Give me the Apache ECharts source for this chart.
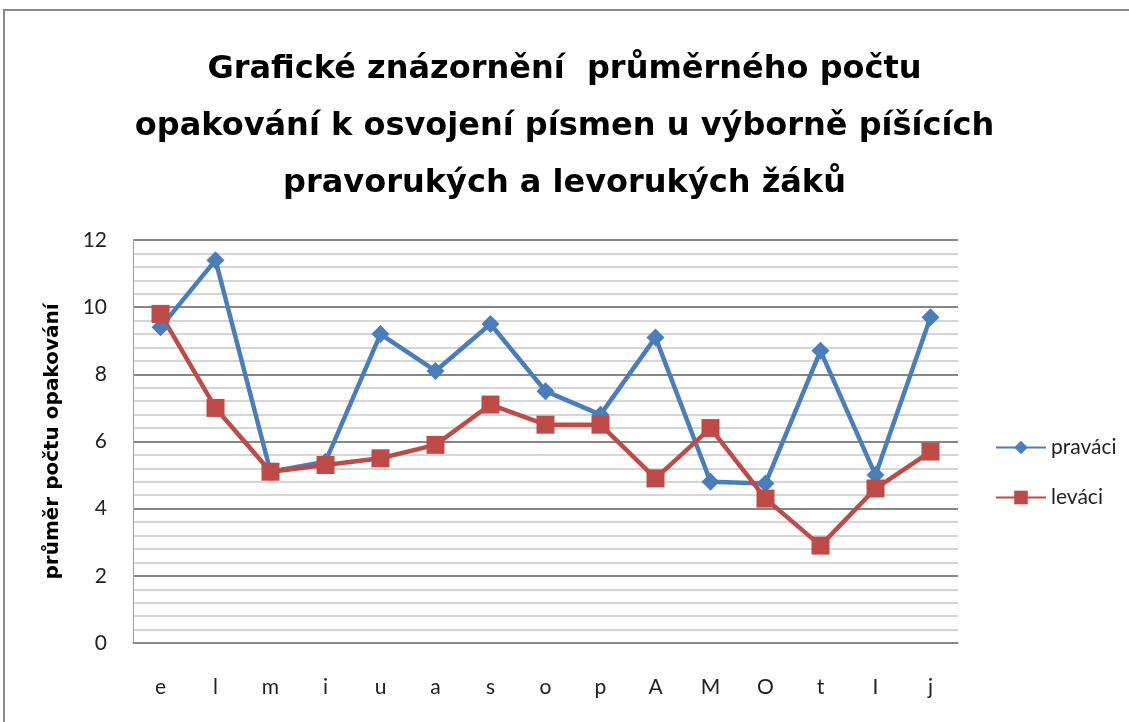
<!DOCTYPE html>
<html><head><meta charset="utf-8">
<script src="https://cdn.jsdelivr.net/npm/echarts@6/dist/echarts.min.js"></script>
<style>html,body{margin:0;padding:0;background:#fff}#c{width:1129px;height:722px}</style>
</head><body><div id="c"></div>
<script>
var categories = ['e','l','m','i','u','a','s','o','p','A','M','O','t','I','j'];
var pravaci = [9.4,11.4,5.1,5.4,9.2,8.1,9.5,7.5,6.8,9.1,4.8,4.75,8.7,5.0,9.7];
var levaci  = [9.8,7.0,5.1,5.3,5.5,5.9,7.1,6.5,6.5,4.9,6.4,4.3,2.9,4.6,5.7];
var yTicks = [0,2,4,6,8,10,12];
var titleText = 'Grafické znázornění  průměrného počtu\nopakování k osvojení písmen u výborně píšících\npravorukých a levorukých žáků';
var yName = 'průměr počtu opakování';
var F = 'Lato, "Open Sans", sans-serif';
var FT = '"DejaVu Sans", sans-serif';
var chart = echarts.init(document.getElementById('c'));
chart.setOption({
  animation:false,
  backgroundColor:'#fff',
  graphic:[{type:'rect',shape:{x:4,y:10,width:1200,height:800},style:{fill:'none',stroke:'#8a8a8a',lineWidth:2},silent:true}],
  title:{text:titleText,left:'center',top:36,textStyle:{fontFamily:FT,fontWeight:'bold',fontSize:32,lineHeight:57,color:'#000'}},
  legend:{orient:'vertical',left:990,top:432,itemGap:29,itemWidth:50,itemHeight:17,
    textStyle:{fontFamily:F,fontSize:21,color:'#222'},
    data:['praváci','leváci']},
  grid:{left:133,right:171,top:240,bottom:79},
  xAxis:{type:'category',data:categories,boundaryGap:true,
    axisLine:{lineStyle:{color:'#8a8a8a',width:1.5}},axisTick:{show:false},
    axisLabel:{fontFamily:F,fontSize:21,color:'#222',margin:34}},
  yAxis:{type:'value',min:yTicks[0],max:yTicks[yTicks.length-1],interval:2,
    name:yName,nameLocation:'middle',nameGap:70,
    nameTextStyle:{fontFamily:FT,fontWeight:'bold',fontSize:20,color:'#000'},
    axisLine:{show:true,lineStyle:{color:'#a0a0a0',width:1}},axisTick:{show:false},
    axisLabel:{fontFamily:F,fontSize:21,color:'#222',margin:26},
    splitLine:{lineStyle:{color:'#868686',width:2}},
    minorTick:{show:false,splitNumber:5},
    minorSplitLine:{show:true,lineStyle:{color:'#c8c8c8',width:1.5}}},
  series:[
    {name:'praváci',type:'line',data:pravaci,symbol:'diamond',symbolSize:18,
     lineStyle:{color:'#4a7ebb',width:4.5},itemStyle:{color:'#4a7ebb'}},
    {name:'leváci',type:'line',data:levaci,symbol:'rect',symbolSize:18,
     lineStyle:{color:'#be4b48',width:4.5},itemStyle:{color:'#be4b48'}}
  ]
});
</script></body></html>
